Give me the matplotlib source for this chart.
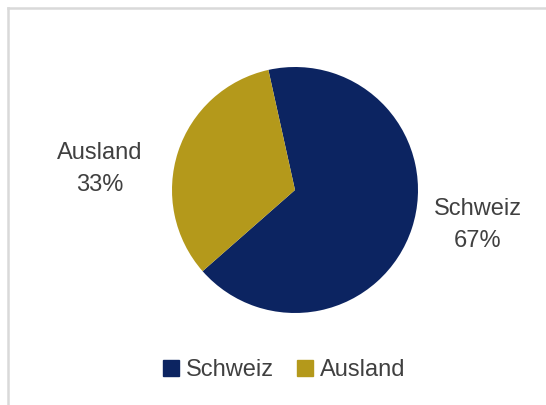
import numpy as np
import matplotlib.pyplot as plt
from matplotlib.lines import Line2D

plt.rcParams['font.family'] = ['Liberation Sans', 'DejaVu Sans']

labels = ['Schweiz', 'Ausland']
values = [67, 33]
colors = ['#0C2461', '#B4991B']
text_color = '#404040'

W, H = 546, 405
fig = plt.figure(figsize=(W / 100, H / 100), dpi=100)

# pie centre / radius in pixels (from top-left)
cx, cy, r = 295, 190, 123
ax = fig.add_axes([(cx - r) / W, (H - cy - r) / H, 2 * r / W, 2 * r / H])
ax.pie(values, colors=colors, startangle=102.5, counterclock=False,
       radius=1, wedgeprops=dict(linewidth=0))
ax.set_xlim(-1, 1)
ax.set_ylim(-1, 1)
ax.axis('off')

# data labels
label_pos = {'Schweiz': (478, 225), 'Ausland': (100, 169)}
for lab, val in zip(labels, values):
    px, py = label_pos[lab]
    fig.text(px / W, 1 - py / H, f'{lab}\n{val}%', ha='center', va='center',
             fontsize=17, color=text_color, linespacing=1.55)

# legend
handles = [Line2D([], [], marker='s', linestyle='none', markersize=11,
                  markerfacecolor=c, markeredgecolor=c) for c in colors]
fig.legend(handles, labels, loc='center', bbox_to_anchor=(284 / W, 1 - 370 / H),
           ncol=2, frameon=False, fontsize=17, handlelength=0.7,
           handletextpad=0.25, columnspacing=1.0, labelcolor=text_color)

# chart-area border (only top and left visible)
fig.add_artist(Line2D([8 / W, 1], [1 - 8 / H, 1 - 8 / H], color='#D9D9D9', lw=1.8))
fig.add_artist(Line2D([8 / W, 8 / W], [0, 1 - 8 / H], color='#D9D9D9', lw=1.8))

fig.savefig('out.png', dpi=100, facecolor='white')
